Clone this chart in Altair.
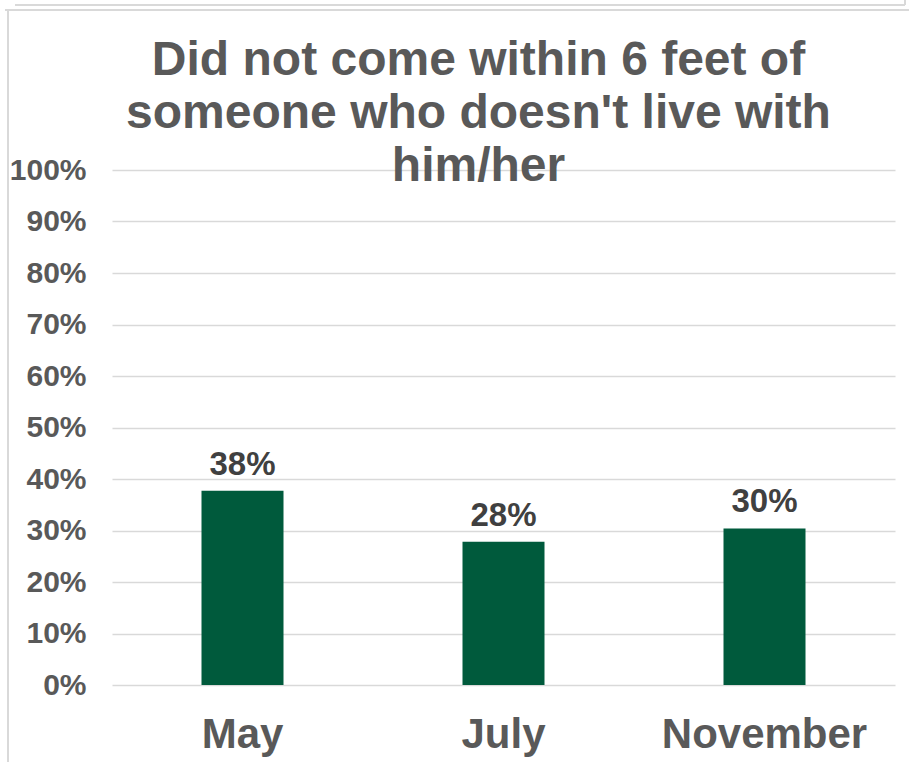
import altair as alt
import pandas as pd

months = ["May", "July", "November"]
values = [0.377, 0.278, 0.304]
labels = ["38%", "28%", "30%"]
title_lines = ["Did not come within 6 feet of", "someone who doesn't live with", "him/her"]

df = pd.DataFrame({"month": months, "value": values, "label": labels})

FONT = "Liberation Sans"
GRAY = "#595959"
GREEN = "#005A3C"

base = alt.Chart(df)

x = alt.X("month:N", sort=months, title=None,
          scale=alt.Scale(paddingInner=0, paddingOuter=0),
          axis=alt.Axis(labelAngle=0, labelFontSize=42, labelFontWeight="bold",
                        labelColor=GRAY, labelFont=FONT, labelPadding=29, labelLimit=0,
                        ticks=False, domain=False, grid=False))
y = alt.Y("value:Q", title=None,
          scale=alt.Scale(domain=[0, 1]),
          axis=alt.Axis(values=[i / 10 for i in range(11)], format=".0%",
                        labelFontSize=30, labelFontWeight="bold", labelColor=GRAY,
                        labelFont=FONT, labelPadding=26, ticks=False, domain=False,
                        grid=True, gridColor="#d9d9d9", gridWidth=1.5))

bars = base.mark_bar(size=82, color=GREEN).encode(x=x, y=y)
text = base.mark_text(font=FONT, fontSize=33, fontWeight="bold", color="#404040",
                      baseline="alphabetic", dy=-16).encode(x=x, y=y, text="label:N")

# decorative slide frame lines
frame_left = base.mark_rule(color="#d9d9d9", strokeWidth=2).encode(
    x=alt.value(-104), y=alt.value(-160), y2=alt.value(600))
frame_top = base.mark_rule(color="#d9d9d9", strokeWidth=2).encode(
    x=alt.value(-107), x2=alt.value(800), y=alt.value(-160))
box_bottom = base.mark_rule(color="#d9d9d9", strokeWidth=2).encode(
    x=alt.value(-97), x2=alt.value(793), y=alt.value(-165))
box_right = base.mark_rule(color="#d9d9d9", strokeWidth=2).encode(
    x=alt.value(793), y=alt.value(-175), y2=alt.value(-165))

chart = alt.layer(frame_left, frame_top, box_bottom, box_right, bars, text).properties(
    width=783, height=515,
    background="white",
    title=alt.TitleParams(text=title_lines, font=FONT, fontSize=48, fontWeight="bold",
                          color=GRAY, anchor="middle", frame="group", lineHeight=53,
                          baseline="alphabetic", offset=0, dx=-25, dy=235),
    autosize=alt.AutoSizeParams(type="none"),
    padding={"left": 112, "top": 170, "right": 14, "bottom": 77},
).configure_view(strokeWidth=0, stroke="transparent")

chart.save("out.html", embed_options={"renderer": "svg", "actions": False})
